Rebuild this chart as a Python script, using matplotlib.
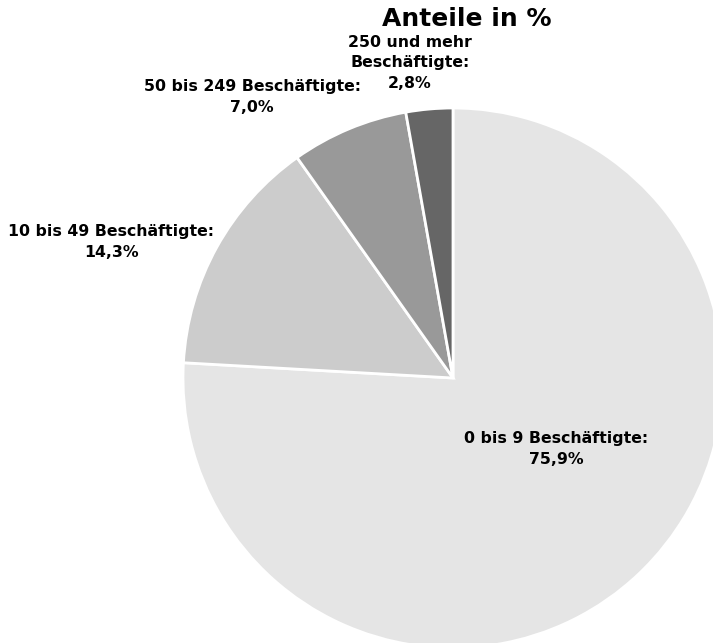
import matplotlib
matplotlib.use("Agg")
import matplotlib.pyplot as plt

# Anteile der Unternehmen nach Beschäftigtengrößenklassen
categories = ["0 bis 9 Beschäftigte:", "10 bis 49 Beschäftigte:",
              "50 bis 249 Beschäftigte:", "250 und mehr\nBeschäftigte:"]
shares = [75.9, 14.3, 7.0, 2.8]
colors = ["#e5e5e5", "#cccccc", "#999999", "#666666"]

# label anchor points (pixels)
label_pos = [(556, 449), (111, 242), (252, 97), (410, 63)]

W, H = 713, 643
fig = plt.figure(figsize=(W / 100, H / 100), dpi=100)

cx, cy, r = 453, 378, 270
ax = fig.add_axes([(cx - r) / W, (H - cy - r) / H, 2 * r / W, 2 * r / H])
ax.pie(shares, colors=colors, startangle=90, counterclock=False,
       wedgeprops=dict(edgecolor="white", linewidth=2))
ax.set_xlim(-1, 1)
ax.set_ylim(-1, 1)
ax.set_aspect("equal")
ax.axis("off")

for cat, val, (px, py) in zip(categories, shares, label_pos):
    txt = cat + "\n" + f"{val:.1f}%".replace(".", ",")
    fig.text(px / W, 1 - py / H, txt, ha="center", va="center",
             fontsize=11.3, fontweight="bold", linespacing=1.45,
             family="DejaVu Sans")

fig.text(467 / W, 1 - 19 / H, "Anteile in %", ha="center", va="center",
         fontsize=18, fontweight="bold")

fig.savefig("out.png", dpi=100)
